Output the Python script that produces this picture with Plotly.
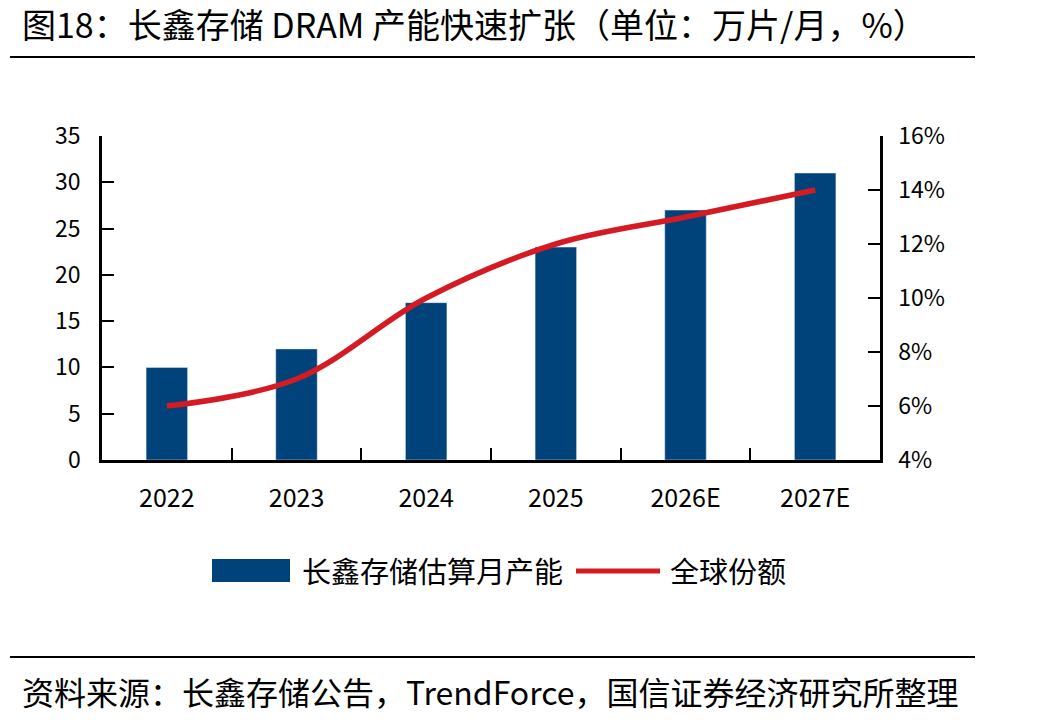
import plotly.graph_objects as go

categories = ["2022", "2023", "2024", "2025", "2026E", "2027E"]
capacity = [10, 12, 17, 23, 27, 31]          # 万片/月
share = [0.06, 0.07, 0.10, 0.12, 0.13, 0.14]  # 全球份额

W, H = 1047, 725
L, R, T, B = 102, 880, 136, 460
PW, PH = R - L, B - T

def px(x):
    return (x - L) / PW

def py(y):
    return (B - y) / PH

FONT = "Noto Sans CJK SC"
BAR = "#00427a"
RED = "#d41a22"

fig = go.Figure()
fig.add_trace(go.Bar(x=categories, y=capacity, marker_color=BAR, width=0.32,
                     name="长鑫存储估算月产能", showlegend=False))
fig.add_trace(go.Scatter(x=categories, y=share, yaxis="y2", mode="lines",
                         line=dict(color=RED, width=5.5, shape="spline", smoothing=1.0),
                         name="全球份额", showlegend=False))

fig.update_layout(
    width=W, height=H,
    margin=dict(l=L, r=W - R, t=T, b=H - B),
    paper_bgcolor="white", plot_bgcolor="white",
    font=dict(family=FONT, color="black"),
    xaxis=dict(type="category", showline=True, linecolor="black", linewidth=2.5,
               ticks="inside", tickson="boundaries", ticklen=12, tickwidth=2,
               tickcolor="black", tickfont=dict(size=25, family=FONT),
               ticklabelstandoff=14, showgrid=False, zeroline=False),
    yaxis=dict(range=[0, 35], dtick=5, showline=True, linecolor="black", linewidth=2.5,
               ticks="inside", ticklen=12, tickwidth=2, tickcolor="black",
               tickfont=dict(size=23, family=FONT), ticklabelstandoff=14,
               showgrid=False, zeroline=False),
    yaxis2=dict(range=[0.04, 0.16], dtick=0.02, tickformat=".0%", overlaying="y",
                side="right", showline=True, linecolor="black", linewidth=2.5,
                ticks="inside", ticklen=12, tickwidth=2, tickcolor="black",
                tickfont=dict(size=23, family=FONT), ticklabelstandoff=11,
                showgrid=False, zeroline=False),
)

shapes = [
    dict(type="line", xref="paper", yref="paper", x0=px(10), x1=px(975), y0=py(57), y1=py(57),
         line=dict(color="black", width=2)),
    dict(type="line", xref="paper", yref="paper", x0=px(10), x1=px(975), y0=py(657), y1=py(657),
         line=dict(color="black", width=2)),
    dict(type="rect", xref="paper", yref="paper", x0=px(212), x1=px(290), y0=py(582), y1=py(559),
         fillcolor=BAR, line=dict(width=0)),
    dict(type="line", xref="paper", yref="paper", x0=px(576), x1=px(660), y0=py(571), y1=py(571),
         line=dict(color=RED, width=5)),
]
fig.update_layout(shapes=shapes)

annotations = [
    dict(text="图18：长鑫存储 DRAM 产能快速扩张（单位：万片/月，%）", xref="paper", yref="paper",
         x=px(20), y=py(23), xanchor="left", yanchor="middle", showarrow=False,
         font=dict(size=34, family=FONT, color="black")),
    dict(text="资料来源：长鑫存储公告，TrendForce，国信证券经济研究所整理", xref="paper", yref="paper",
         x=px(20), y=py(691), xanchor="left", yanchor="middle", showarrow=False,
         font=dict(size=32, family=FONT, color="black")),
    dict(text="长鑫存储估算月产能", xref="paper", yref="paper",
         x=px(300), y=py(570), xanchor="left", yanchor="middle", showarrow=False,
         font=dict(size=29, family=FONT, color="black")),
    dict(text="全球份额", xref="paper", yref="paper",
         x=px(668), y=py(570), xanchor="left", yanchor="middle", showarrow=False,
         font=dict(size=29, family=FONT, color="black")),
]
fig.update_layout(annotations=annotations)

fig.write_html("out.html")
